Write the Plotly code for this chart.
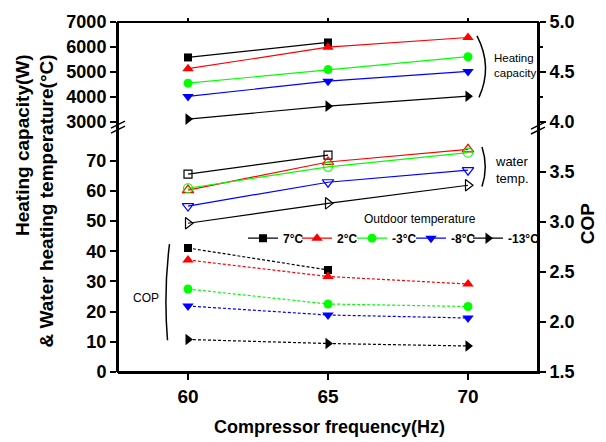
import plotly.graph_objects as go

# Compressor frequency (Hz)
freq = [60, 65, 70]

# Outdoor temperature series
temps = ["7°C", "2°C", "-3°C", "-8°C", "-13°C"]
colors = ["#000000", "#FF0000", "#00FF00", "#0000FF", "#000000"]
symbols = ["square", "triangle-up", "circle", "triangle-down", "triangle-right"]

# Heating capacity (W)
cap_7 = [5580, 6180]
cap_2 = [5130, 5990, 6380]
cap_m3 = [4550, 5095, 5610]
cap_m8 = [4020, 4630, 5020]
cap_m13 = [3110, 3630, 4030]

# Water heating temperature (°C)
wt_7 = [65.6, 71.9]
wt_2 = [60.3, 69.6, 73.8]
wt_m3 = [60.9, 68.0, 72.7]
wt_m8 = [55.0, 62.9, 66.9]
wt_m13 = [49.3, 55.9, 61.9]

# Coefficient of performance
cop_7 = [2.74, 2.52]
cop_2 = [2.62, 2.455, 2.38]
cop_m3 = [2.33, 2.18, 2.155]
cop_m8 = [2.16, 2.07, 2.04]
cop_m13 = [1.825, 1.785, 1.76]

capacity = [cap_7, cap_2, cap_m3, cap_m8, cap_m13]
water = [wt_7, wt_2, wt_m3, wt_m8, wt_m13]
cop = [cop_7, cop_2, cop_m3, cop_m8, cop_m13]

FONT = "Liberation Sans"
W, H = 606, 442
ML, MR, MT, MB = 118, 68, 19, 70
PW, PH = W - ML - MR, H - MT - MB


def px(x):
    return (x - ML) / PW


def py(y):
    return (H - MB - y) / PH


split = py(123)

fig = go.Figure()

legend_ids = ["legend", "legend2", "legend3", "legend4", "legend5"]
legend_left = [243, 297, 352, 411, 468]
sizes = [8, 10, 9, 10, 10]
for i, name in enumerate(temps):
    n = len(capacity[i])
    # heating capacity: upper panel
    fig.add_trace(go.Scatter(
        x=freq[:n], y=capacity[i], name=name, xaxis="x", yaxis="y2",
        mode="lines+markers",
        line=dict(color=colors[i], width=1.2),
        marker=dict(symbol=symbols[i], size=sizes[i], color=colors[i]),
        showlegend=True, legend=legend_ids[i]))
    # water heating temperature: lower panel, open markers
    fig.add_trace(go.Scatter(
        x=freq[:n], y=water[i], name=name, xaxis="x", yaxis="y",
        mode="lines+markers",
        line=dict(color=colors[i], width=1.2),
        marker=dict(symbol=symbols[i] + "-open", size=sizes[i], color=colors[i],
                    line=dict(width=1.2, color=colors[i])),
        showlegend=False))
    # COP: right axis, dashed
    fig.add_trace(go.Scatter(
        x=freq[:n], y=cop[i], name=name, xaxis="x", yaxis="y3",
        mode="lines+markers",
        line=dict(color=colors[i], width=1.2, dash="3px,2px"),
        marker=dict(symbol=symbols[i], size=sizes[i], color=colors[i]),
        showlegend=False))

tickfont = dict(family=FONT, size=18, color="black", weight="bold")
axis_common = dict(showline=True, linecolor="black", linewidth=2,
                   ticks="outside", ticklen=6, tickwidth=2, tickcolor="black",
                   showgrid=False, zeroline=False, tickfont=tickfont)

fig.update_layout(
    width=W, height=H,
    margin=dict(l=ML, r=MR, t=MT, b=MB),
    paper_bgcolor="white", plot_bgcolor="rgba(0,0,0,0)",
    font=dict(family=FONT, color="black"),
    xaxis=dict(domain=[0, 1], range=[57.5, 72.5], tickvals=freq, anchor="y3",
               **{**axis_common, "tickfont": dict(family=FONT, size=19,
                                                  color="black", weight="bold")}),
    yaxis=dict(domain=[0, split], range=[0, (H - MB - 123) / 3.043],
               tickvals=[0, 10, 20, 30, 40, 50, 60, 70], anchor="x",
               **axis_common),
    yaxis2=dict(domain=[split, 1], range=[2870, 7000],
                tickvals=[3000, 4000, 5000, 6000, 7000],
                anchor="x", **axis_common),
    yaxis3=dict(domain=[0, 1], range=[1.5, 5.0], side="right",
                anchor="x",
                tickvals=[1.5, 2.0, 2.5, 3.0, 3.5, 4.0, 4.5, 5.0],
                tickformat=".1f",
                minor=dict(tickvals=[4.25, 4.75], ticks="outside", ticklen=3,
                           tickwidth=1.5, tickcolor="black"),
                **axis_common),
)

# one single-entry legend per outdoor temperature, laid out in a row
for lid, left in zip(legend_ids, legend_left):
    fig.update_layout({lid: dict(
        orientation="h", x=px(left), xanchor="left", y=py(237),
        yanchor="middle", bgcolor="rgba(0,0,0,0)", borderwidth=0,
        font=dict(family=FONT, size=12, color="black", weight="bold"),
        itemclick=False, itemdoubleclick=False)})

annotations = [
    dict(text="Compressor frequency(Hz)", x=px(329.5), y=py(427),
         font=dict(family=FONT, size=18, weight="bold")),
    dict(text="Heating capacity(W)<br>& Water heating temperature(°C)",
         x=px(35), y=py(200), textangle=-90, align="right",
         font=dict(family=FONT, size=19, weight="bold")),
    dict(text="COP", x=px(587), y=py(222), textangle=-90,
         font=dict(family=FONT, size=19, weight="bold")),
    dict(text="Heating<br>capacity", x=px(492), y=py(63), xanchor="left",
         align="left", font=dict(family=FONT, size=11.5)),
    dict(text="water<br>temp.", x=px(493), y=py(168), xanchor="left",
         align="left", font=dict(family=FONT, size=13)),
    dict(text="COP", x=px(146), y=py(297), font=dict(family=FONT, size=12)),
    dict(text="Outdoor temperature", x=px(420), y=py(218),
         font=dict(family=FONT, size=12)),
]
for a in annotations:
    a.setdefault("xanchor", "center")
    a.update(xref="paper", yref="paper", showarrow=False, yanchor="middle")
    a["font"]["color"] = "black"
fig.update_layout(annotations=annotations)


def curve(p0, c, p1):
    return "M {},{} Q {},{} {},{}".format(px(p0[0]), py(p0[1]), px(c[0]),
                                           py(c[1]), px(p1[0]), py(p1[1]))


black = dict(color="black", width=1.5)
shapes = [
    # grouping brackets
    dict(type="path", path=curve((477, 33), (493, 64), (479, 95))),
    dict(type="path", path=curve((482, 145), (488.5, 165), (482, 185))),
    dict(type="path", path=curve((169.5, 243), (163.5, 291), (167.5, 340))),
]
# axis break marks
for (x0, y0, x1, y1) in [(111, 126, 125, 119), (111, 131, 125, 124),
                         (531, 127, 545, 120), (531, 132, 545, 125)]:
    shapes.append(dict(type="line", x0=px(x0), y0=py(y0), x1=px(x1), y1=py(y1)))
for s in shapes:
    s.update(xref="paper", yref="paper", line=black)

# closed frame around the plotting area, with short ticks along the top edge
shapes.append(dict(type="rect", xref="paper", yref="paper", x0=0, x1=1,
                   y0=0, y1=1, layer="above", fillcolor="rgba(0,0,0,0)",
                   line=dict(color="black", width=2)))
for f in freq:
    shapes.append(dict(type="line", xref="x", yref="paper", x0=f, x1=f,
                       y0=1, y1=1 + 4 / PH, layer="above",
                       line=dict(color="black", width=2)))
fig.update_layout(shapes=shapes)

fig.write_html("out.html")
